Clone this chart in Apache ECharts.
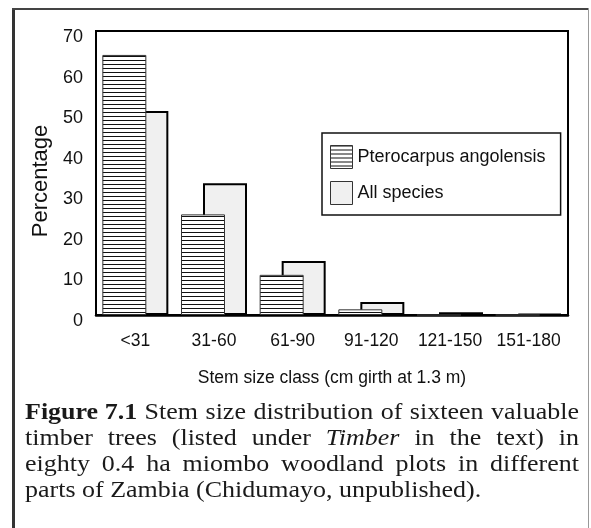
<!DOCTYPE html>
<html>
<head>
<meta charset="utf-8">
<script src="https://cdn.jsdelivr.net/npm/echarts@6/dist/echarts.min.js"></script>
<style>
  html, body { margin: 0; padding: 0; background: #fff; }
  #chart { width: 591px; height: 528px; }
</style>
</head>
<body>
<div id="chart"></div>
<script>
// Stem size classes (cm girth at 1.3 m)
const categories = ['<31', '31-60', '61-90', '91-120', '121-150', '151-180'];
// Percentage of stems in each class
const pterocarpus = [64.1, 24.8, 9.9, 1.4, 0, 0];
const allSpecies = [50.3, 32.5, 13.3, 3.2, 0.7, 0.3];
// Percentage axis range
const yMin = 0, yMax = 70, yStep = 10;

const SANS = '"Liberation Sans", Arial, sans-serif';
const SERIF = '"Liberation Serif", "Times New Roman", serif';

// Horizontal line hatching for the Pterocarpus bars
const hatch = document.createElement('canvas');
hatch.width = 8; hatch.height = 4;
(function () {
  const c = hatch.getContext('2d');
  c.fillStyle = '#ffffff'; c.fillRect(0, 0, 8, 4);
  c.fillStyle = '#111111'; c.fillRect(0, 0, 8, 1);
})();

// Caption, laid out word by word so the first lines are justified
const captionLines = [
  [{ t: 'Figure 7.1', w: 'bold' }, 'Stem', 'size', 'distribution', 'of', 'sixteen', 'valuable'],
  ['timber', 'trees', '(listed', 'under', { t: 'Timber', s: 'italic' }, 'in', 'the', 'text)', 'in'],
  ['eighty', '0.4', 'ha', 'miombo', 'woodland', 'plots', 'in', 'different'],
  ['parts', 'of', 'Zambia', '(Chidumayo,', 'unpublished).']
];
const capSize = 23, capStretch = 1.13;
const capLeft = 25, capRight = 579, capTop = 413, capLead = 26;
const mctx = document.createElement('canvas').getContext('2d');
function tokenFont(tok) {
  return (tok.s || 'normal') + ' ' + (tok.w || 'normal') + ' ' + capSize + 'px ' + SERIF;
}
const captionEls = [];
captionLines.forEach(function (line, li) {
  const toks = line.map(function (t) { return typeof t === 'string' ? { t: t } : t; });
  const widths = toks.map(function (t) {
    mctx.font = tokenFont(t);
    return mctx.measureText(t.t).width * capStretch;
  });
  const total = widths.reduce(function (a, b) { return a + b; }, 0);
  mctx.font = tokenFont({});
  const space = mctx.measureText(' ').width * capStretch;
  const last = li === captionLines.length - 1;
  const gap = last ? space : (capRight - capLeft - total) / (toks.length - 1);
  let x = capLeft;
  toks.forEach(function (t, i) {
    captionEls.push({
      type: 'text', x: x, y: capTop + li * capLead, scaleX: capStretch,
      style: {
        text: t.t, fill: '#1a1a1a', fontSize: capSize, fontFamily: SERIF,
        fontWeight: t.w || 'normal', fontStyle: t.s || 'normal',
        verticalAlign: 'middle', align: 'left'
      }
    });
    x += widths[i] + gap;
  });
});

const chart = echarts.init(document.getElementById('chart'), null, { renderer: 'canvas' });
chart.setOption({
  animation: false,
  backgroundColor: '#ffffff',
  grid: {
    left: 96, top: 31, width: 472, height: 284,
    show: true, borderColor: '#000', borderWidth: 2, backgroundColor: 'transparent'
  },
  legend: {
    orient: 'vertical', left: 322, top: 133,
    padding: [12, 15, 10, 8], itemGap: 12,
    itemWidth: 22, itemHeight: 23,
    backgroundColor: '#fff', borderColor: '#111', borderWidth: 1.5, borderRadius: 0,
    icon: 'rect',
    textStyle: { fontSize: 18, fontFamily: SANS, color: '#111' },
    data: [
      { name: 'Pterocarpus angolensis', itemStyle: { borderColor: '#333', borderWidth: 1 } },
      { name: 'All species', itemStyle: { borderColor: '#333', borderWidth: 1 } }
    ]
  },
  xAxis: {
    type: 'category', data: categories,
    name: 'Stem size class (cm girth at 1.3 m)', nameLocation: 'middle', nameGap: 54,
    nameTextStyle: { fontSize: 17.5, fontFamily: SANS, color: '#111', verticalAlign: 'top' },
    axisLine: { show: true, lineStyle: { color: '#000', width: 2.5 } },
    axisTick: { show: false },
    axisLabel: { fontSize: 17.5, fontFamily: SANS, color: '#111', margin: 17, interval: 0 }
  },
  yAxis: {
    type: 'value', min: yMin, max: yMax, interval: yStep,
    name: 'Percentage', nameLocation: 'middle', nameGap: 36,
    nameTextStyle: { fontSize: 22, fontFamily: SANS, color: '#111', padding: [0, 16, 0, 0] },
    axisLine: { show: true, lineStyle: { color: '#000', width: 2 } },
    axisTick: { show: false },
    splitLine: { show: false },
    axisLabel: {
      fontSize: 18, fontFamily: SANS, color: '#111', margin: 13,
      verticalAlign: 'top', lineHeight: 12
    }
  },
  series: [
    {
      name: 'Pterocarpus angolensis', type: 'bar', data: pterocarpus,
      barWidth: 44, barGap: '-50%', z: 3,
      itemStyle: { color: { image: hatch, repeat: 'repeat' }, borderColor: '#333', borderWidth: 1 }
    },
    {
      name: 'All species', type: 'bar', data: allSpecies,
      barWidth: 44, z: 2,
      itemStyle: { color: '#f0f0f0', borderColor: '#000', borderWidth: 2 }
    }
  ],
  graphic: [
    { type: 'line', shape: { x1: 13.5, y1: 8, x2: 13.5, y2: 528 }, style: { stroke: '#333', lineWidth: 3 } },
    { type: 'line', shape: { x1: 12, y1: 9, x2: 589, y2: 9 }, style: { stroke: '#444', lineWidth: 2 } },
    { type: 'line', shape: { x1: 588.5, y1: 8, x2: 588.5, y2: 528 }, style: { stroke: '#999', lineWidth: 1 } },
    { type: 'group', children: captionEls }
  ]
});
</script>
</body>
</html>
